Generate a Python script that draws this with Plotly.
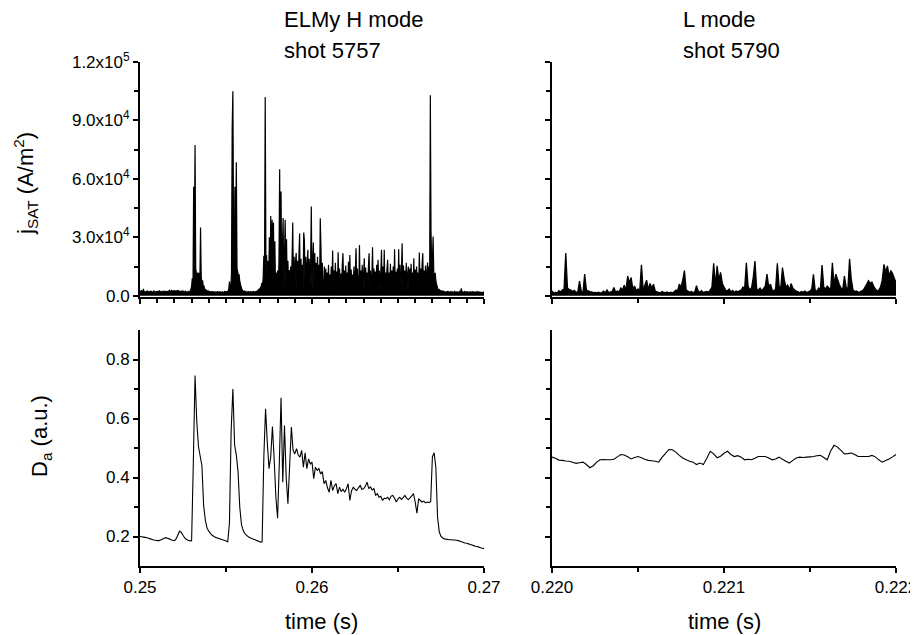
import numpy as np
import plotly.graph_objects as go

# ---------------- data ----------------
# H mode, shot 5757: ion saturation current density, units of 1e3 A/m^2,
# sampled every 40 us from t = 0.250 s
h_jsat_t0 = 0.250
h_jsat_dt = 0.00004
h_jsat_kA = [
    2.4, 1.8, 2.9, 1.5, 2.2, 3.6, 1.7, 2.0, 1.4, 2.3,
    1.9, 2.6, 1.3, 2.1, 1.8, 2.5, 1.6, 2.2, 1.9, 1.5,
    2.7, 1.8, 2.0, 1.4, 2.4, 1.9, 2.2, 1.6, 2.8, 1.7,
    2.1, 1.5, 2.3, 2.0, 1.8, 2.6, 1.7, 2.2, 1.9, 2.4,
    1.6, 2.5, 2.0, 3.1, 1.8, 2.3, 2.7, 1.9, 2.5, 2.2,
    2.8, 2.0, 2.4, 1.7, 2.9, 2.3, 2.6, 2.0, 2.4, 1.8,
    2.2, 2.6, 1.9, 2.3, 1.7, 2.1, 2.4, 1.8, 2.0, 1.6,
    2.3, 1.9, 2.1, 2.6, 3.4, 4.8, 9.0, 3.5, 56.0, 18.0,
    77.4, 14.0, 11.5, 9.0, 12.0, 8.5, 11.8, 7.0, 35.0, 9.5,
    6.5, 8.0, 4.5, 5.2, 3.0, 3.6, 2.4, 2.9, 2.0, 2.5,
    1.8, 2.2, 1.5, 2.1, 1.7, 2.4, 1.4, 2.0, 1.6, 2.2,
    1.3, 1.9, 1.6, 2.3, 1.5, 1.8, 2.1, 1.4, 1.9, 1.7,
    2.0, 1.5, 1.8, 2.2, 1.6, 2.4, 1.7, 2.0, 2.6, 3.2,
    7.3, 3.5, 4.0, 12.0, 87.0, 105.0, 30.0, 17.0, 56.0, 22.0,
    68.6, 14.0, 12.5, 10.0, 11.0, 7.5, 6.0, 4.5, 3.5, 2.8,
    2.4, 2.0, 2.6, 1.8, 2.2, 1.5, 2.0, 1.7, 2.3, 1.6,
    1.9, 2.2, 1.5, 2.0, 1.8, 2.4, 1.6, 2.1, 1.9, 2.3,
    2.0, 2.6, 2.9, 3.5, 3.0, 4.2, 4.8, 6.5, 5.5, 9.0,
    20.5, 12.0, 102.0, 19.0, 21.0, 3.0, 18.0, 2.5, 30.0, 3.5,
    41.0, 2.8, 39.0, 20.0, 37.6, 4.0, 28.0, 2.5, 12.0, 2.0,
    13.0, 3.0, 18.0, 65.0, 3.5, 53.5, 2.5, 24.0, 40.0, 3.0,
    20.0, 39.0, 2.5, 29.0, 4.0, 18.0, 2.0, 13.3, 3.0, 15.0,
    2.5, 19.0, 37.6, 3.0, 20.0, 2.5, 17.0, 22.0, 3.0, 18.0,
    2.2, 21.0, 32.0, 3.5, 19.0, 2.5, 16.0, 4.0, 32.5, 28.0,
    2.5, 20.0, 3.0, 17.0, 23.6, 2.0, 19.0, 4.0, 15.0, 45.8,
    3.0, 18.0, 27.3, 2.5, 22.0, 3.5, 17.0, 2.0, 20.0, 3.0,
    16.0, 2.5, 39.8, 25.3, 3.0, 17.0, 4.0, 2.0, 15.0, 3.0,
    14.0, 2.0, 12.0, 3.5, 16.0, 2.2, 11.0, 4.0, 15.0, 2.5,
    23.2, 2.5, 13.0, 3.5, 17.0, 2.0, 12.5, 3.0, 22.4, 2.8,
    14.0, 2.2, 11.5, 4.0, 16.0, 21.9, 2.0, 13.0, 3.0, 15.5,
    2.5, 12.0, 4.5, 17.5, 2.0, 21.0, 3.5, 13.5, 2.2, 11.0,
    3.5, 15.0, 2.5, 12.0, 24.4, 3.0, 14.0, 4.5, 2.0, 26.1,
    3.0, 13.0, 2.2, 16.0, 3.5, 11.0, 19.3, 2.5, 14.5, 3.0,
    12.0, 2.0, 15.0, 21.9, 2.8, 13.0, 4.0, 10.0, 24.9, 2.2,
    14.0, 3.0, 12.5, 2.0, 16.0, 4.5, 18.5, 2.5, 13.0, 3.0,
    11.0, 23.6, 2.5, 15.0, 2.0, 23.6, 3.5, 12.0, 2.2, 14.0,
    18.5, 2.8, 12.0, 4.0, 16.5, 2.0, 13.0, 3.0, 15.0, 2.5,
    23.9, 3.5, 12.5, 2.2, 14.0, 3.0, 23.9, 2.5, 16.0, 2.0,
    12.0, 27.0, 3.0, 15.5, 2.2, 13.0, 3.5, 17.0, 2.5, 11.0,
    15.0, 2.0, 14.0, 3.0, 16.5, 2.5, 12.0, 4.0, 19.3, 2.5,
    13.5, 2.0, 15.0, 3.5, 12.0, 2.2, 22.2, 3.5, 14.0, 2.5,
    16.0, 21.9, 2.2, 13.0, 3.5, 15.5, 2.0, 12.0, 17.1, 3.5,
    15.0, 9.0, 103.0, 33.0, 14.0, 17.0, 30.4, 12.0, 9.0, 11.8,
    8.0, 6.0, 4.8, 3.5, 2.8, 3.2, 2.4, 2.7, 2.2, 2.5,
    1.9, 2.3, 1.7, 2.1, 1.5, 2.0, 1.8, 2.4, 1.6, 2.1,
    1.4, 1.9, 2.2, 1.6, 2.0, 1.5, 1.8, 2.3, 1.7, 1.9,
    1.5, 2.1, 1.8, 1.4, 2.0, 2.5, 1.7, 3.9, 1.6, 2.2,
    1.5, 1.9, 2.4, 1.6, 2.0, 1.4, 2.2, 1.7, 1.9, 1.5,
    2.1, 1.6, 1.8, 2.3, 1.5, 1.9, 1.7, 2.0, 1.4, 1.8,
    2.2, 1.6, 1.9, 1.5, 2.0, 1.7, 1.4, 1.8, 1.6, 1.9, 1.5,
]

# H mode D-alpha (a.u.), sampled every 100 us from t = 0.250 s
h_da_t0 = 0.250
h_da_dt = 0.0001
h_da = [
    0.200, 0.199, 0.198, 0.197, 0.196, 0.194, 0.192, 0.190, 0.188, 0.187,
    0.186, 0.186, 0.188, 0.191, 0.194, 0.196, 0.194, 0.192, 0.189, 0.187,
    0.186, 0.192, 0.205, 0.218, 0.214, 0.204, 0.195, 0.190, 0.187, 0.186,
    0.185, 0.450, 0.746, 0.590, 0.505, 0.472, 0.440, 0.305, 0.255, 0.228,
    0.218, 0.210, 0.204, 0.200, 0.197, 0.195, 0.193, 0.191, 0.189, 0.187,
    0.185, 0.182, 0.245, 0.560, 0.700, 0.510, 0.476, 0.420, 0.300, 0.240,
    0.220, 0.210, 0.204, 0.199, 0.196, 0.193, 0.191, 0.189, 0.186, 0.184,
    0.181, 0.182, 0.470, 0.633, 0.520, 0.430, 0.470, 0.573, 0.463, 0.333,
    0.262, 0.450, 0.670, 0.384, 0.576, 0.401, 0.311, 0.440, 0.571, 0.492,
    0.480, 0.498, 0.476, 0.469, 0.492, 0.435, 0.484, 0.430, 0.463, 0.446,
    0.452, 0.396, 0.435, 0.424, 0.430, 0.412, 0.420, 0.379, 0.390, 0.365,
    0.350, 0.390, 0.356, 0.372, 0.379, 0.345, 0.367, 0.352, 0.360, 0.350,
    0.362, 0.379, 0.322, 0.355, 0.367, 0.360, 0.356, 0.365, 0.373, 0.360,
    0.362, 0.370, 0.384, 0.362, 0.368, 0.358, 0.362, 0.339, 0.345, 0.333,
    0.336, 0.322, 0.330, 0.328, 0.333, 0.325, 0.337, 0.339, 0.330, 0.317,
    0.328, 0.333, 0.326, 0.332, 0.339, 0.330, 0.325, 0.331, 0.338, 0.345,
    0.317, 0.279, 0.328, 0.322, 0.317, 0.320, 0.314, 0.317, 0.315, 0.318,
    0.470, 0.484, 0.435, 0.265, 0.215, 0.200, 0.195, 0.192, 0.191, 0.190,
    0.189, 0.189, 0.188, 0.188, 0.187, 0.186, 0.184, 0.182, 0.180, 0.178,
    0.177, 0.175, 0.173, 0.171, 0.169, 0.167, 0.166, 0.164, 0.162, 0.160, 0.159,
]

# L mode, shot 5790: jsat in 1e3 A/m^2, sampled every 10 us from t = 0.220 s
l_jsat_t0 = 0.220
l_jsat_dt = 0.00001
l_jsat_kA = [
    2.5, 1.2, 1.8, 1.4, 2.6, 2.0, 3.0, 3.5, 22.0, 4.0,
    3.2, 3.0, 2.2, 2.8, 1.8, 2.0, 7.5, 2.4, 1.6, 11.2,
    3.0, 2.6, 2.2, 2.0, 1.6, 1.8, 1.5, 1.9, 1.4, 1.7,
    2.4, 1.6, 3.0, 1.5, 2.0, 2.2, 4.3, 1.8, 2.5, 2.0,
    4.0, 3.0, 5.5, 2.8, 10.2, 6.5, 9.4, 3.5, 5.0, 2.6,
    3.5, 2.5, 15.9, 3.0, 5.5, 8.0, 3.2, 6.3, 4.0, 6.0,
    2.5, 2.0, 1.8, 1.5, 2.2, 1.7, 1.6, 2.0, 1.4, 1.8,
    1.5, 2.0, 3.0, 2.5, 6.0, 4.5, 8.0, 13.0, 3.0, 2.5,
    1.8, 2.2, 1.6, 2.0, 5.2, 2.4, 1.8, 2.6, 1.6, 2.0,
    2.2, 1.8, 3.0, 4.5, 16.7, 5.0, 15.4, 8.0, 12.0, 6.5,
    4.5, 3.0, 2.5, 3.5, 2.0, 2.8, 1.8, 2.5, 2.0, 2.6,
    3.0, 4.5, 3.5, 17.0, 5.0, 3.0, 4.0, 9.4, 17.8, 3.5,
    3.0, 4.0, 2.5, 3.8, 5.0, 11.1, 4.5, 6.0, 3.0, 2.5,
    3.5, 16.7, 5.0, 4.0, 14.5, 8.5, 4.5, 5.5, 3.0, 6.3,
    4.0, 3.0, 2.5, 2.0, 1.6, 2.2, 1.8, 2.4, 1.7, 2.0,
    2.5, 3.5, 11.1, 3.0, 2.2, 4.0, 3.0, 15.8, 4.5, 3.5,
    5.0, 4.0, 3.0, 17.0, 5.5, 11.1, 8.5, 6.0, 4.0, 3.0,
    10.2, 4.5, 3.0, 19.0, 8.5, 3.0, 2.2, 2.5, 1.8, 2.0,
    2.4, 3.0, 4.5, 6.0, 7.7, 6.5, 7.0, 5.0, 3.5, 2.5,
    3.0, 4.5, 8.0, 16.2, 12.0, 15.4, 10.0, 13.0, 11.5, 9.0,
    6.8,
]

# L mode D-alpha (a.u.), sampled every 20 us from t = 0.220 s
l_da_t0 = 0.220
l_da_dt = 0.00002
l_da = [
    0.469, 0.465, 0.459, 0.458, 0.456, 0.455, 0.452, 0.448, 0.450, 0.452,
    0.444, 0.433, 0.440, 0.452, 0.460, 0.461, 0.460, 0.460, 0.462, 0.470,
    0.478, 0.476, 0.470, 0.463, 0.468, 0.471, 0.467, 0.462, 0.458, 0.457,
    0.455, 0.452, 0.468, 0.482, 0.495, 0.494, 0.486, 0.475, 0.466, 0.460,
    0.455, 0.452, 0.444, 0.449, 0.444, 0.465, 0.489, 0.480, 0.467, 0.472,
    0.482, 0.489, 0.478, 0.471, 0.474, 0.469, 0.460, 0.462, 0.460, 0.465,
    0.471, 0.471, 0.471, 0.466, 0.460, 0.463, 0.469, 0.462, 0.455, 0.449,
    0.458, 0.466, 0.469, 0.468, 0.469, 0.470, 0.471, 0.474, 0.475, 0.468,
    0.460, 0.490, 0.509, 0.503, 0.492, 0.480, 0.481, 0.483, 0.478, 0.471,
    0.471, 0.471, 0.471, 0.475, 0.470, 0.460, 0.452, 0.458, 0.463, 0.470,
    0.478,
]

# tick labels
jsat_tickvals = [0, 30000, 60000, 90000, 120000]
jsat_ticktext = ["0.0", "3.0x10<sup>4</sup>", "6.0x10<sup>4</sup>",
                 "9.0x10<sup>4</sup>", "1.2x10<sup>5</sup>"]
da_tickvals = [0.2, 0.4, 0.6, 0.8]
da_ticktext = ["0.2", "0.4", "0.6", "0.8"]
h_time_tickvals = [0.25, 0.26, 0.27]
h_time_ticktext = ["0.25", "0.26", "0.27"]
l_time_tickvals = [0.220, 0.221, 0.222]
l_time_ticktext = ["0.220", "0.221", "0.222"]

# ---------------- figure ----------------
def times(t0, dt, n):
    return t0 + dt * np.arange(n)

h_jsat = np.array(h_jsat_kA) * 1e3
l_jsat = np.array(l_jsat_kA) * 1e3

fig = go.Figure()
fig.add_trace(go.Scatter(x=times(h_jsat_t0, h_jsat_dt, len(h_jsat)), y=h_jsat,
                         mode="lines", line=dict(color="black", width=1.2, simplify=False),
                         fill="tozeroy", fillcolor="black",
                         xaxis="x", yaxis="y"))
fig.add_trace(go.Scatter(x=times(h_da_t0, h_da_dt, len(h_da)), y=h_da,
                         mode="lines", line=dict(color="black", width=1.1, simplify=False),
                         xaxis="x2", yaxis="y2"))
fig.add_trace(go.Scatter(x=times(l_jsat_t0, l_jsat_dt, len(l_jsat)), y=l_jsat,
                         mode="lines", line=dict(color="black", width=1.3, simplify=False),
                         fill="tozeroy", fillcolor="black",
                         xaxis="x3", yaxis="y3"))
fig.add_trace(go.Scatter(x=times(l_da_t0, l_da_dt, len(l_da)), y=l_da,
                         mode="lines", line=dict(color="black", width=1.1, simplify=False),
                         xaxis="x4", yaxis="y4"))

FONT = "Liberation Sans, Arial, Helvetica, sans-serif"
OFF = 8                      # page body margin offset
W, H = 918 - OFF, 635 - OFF  # figure size
fx = lambda px: (px - OFF) / W
fy = lambda py: 1 - (py - OFF) / H

left_dom = [fx(140), fx(484)]
right_dom = [fx(552), fx(896)]
top_dom = [fy(297), fy(62)]
bot_dom = [fy(566), fy(330)]

def ax(**kw):
    base = dict(showline=True, linecolor="black", linewidth=2, ticks="outside",
                ticklen=5, tickwidth=1.5, tickcolor="black", showgrid=False,
                zeroline=False, automargin=False,
                tickfont=dict(family=FONT, size=17, color="black"))
    base.update(kw)
    return base

jsat_range = [-600, 120000]
da_range = [0.1, 0.9]
mk = lambda **k: dict(ticks="outside", ticklen=4, tickwidth=1.5, tickcolor="black", **k)

fig.update_layout(
    width=W, height=H, autosize=False,
    margin=dict(l=0, r=0, t=0, b=0, autoexpand=False),
    paper_bgcolor="white", plot_bgcolor="white", showlegend=False,
    xaxis=ax(domain=left_dom, anchor="y", range=[0.25, 0.27],
             tickvals=h_time_tickvals, showticklabels=False,
             minor=mk(dtick=0.001, tick0=0.25)),
    yaxis=ax(domain=top_dom, anchor="x", range=jsat_range,
             tickvals=jsat_tickvals, ticktext=jsat_ticktext,
             minor=mk(tickvals=[15000, 45000, 75000, 105000])),
    xaxis2=ax(domain=left_dom, anchor="y2", range=[0.25, 0.27],
              tickvals=h_time_tickvals, ticktext=h_time_ticktext,
              minor=mk(tickvals=[0.255, 0.265])),
    yaxis2=ax(domain=bot_dom, anchor="x2", range=da_range,
              tickvals=da_tickvals, ticktext=da_ticktext,
              minor=mk(tickvals=[0.3, 0.5, 0.7])),
    xaxis3=ax(domain=right_dom, anchor="y3", range=[0.220, 0.222],
              tickvals=l_time_tickvals, showticklabels=False,
              minor=mk(tickvals=[0.2205, 0.2215])),
    yaxis3=ax(domain=top_dom, anchor="x3", range=jsat_range,
              tickvals=jsat_tickvals, showticklabels=False,
              minor=mk(tickvals=[15000, 45000, 75000, 105000])),
    xaxis4=ax(domain=right_dom, anchor="y4", range=[0.220, 0.222],
              tickvals=l_time_tickvals, ticktext=l_time_ticktext,
              minor=mk(tickvals=[0.2205, 0.2215])),
    yaxis4=ax(domain=bot_dom, anchor="x4", range=da_range,
              tickvals=da_tickvals, showticklabels=False,
              minor=mk(tickvals=[0.3, 0.5, 0.7])),
)

def ann(text, px, py, size=22, angle=0, xanchor="center"):
    fig.add_annotation(text=text, x=fx(px), y=fy(py), xref="paper", yref="paper",
                       showarrow=False, textangle=angle, xanchor=xanchor, yanchor="middle",
                       font=dict(family=FONT, size=size, color="black"))

ann("ELMy H mode", 282, 20, xanchor="left")
ann("shot 5757", 282, 50, xanchor="left")
ann("L mode", 681, 20, xanchor="left")
ann("shot 5790", 681, 50, xanchor="left")
ann("j<sub>SAT</sub> (A/m<sup>2</sup>)", 25, 184, angle=-90)
ann("D<sub>a</sub> (a.u.)", 41, 436, angle=-90)
ann("time (s)", 321, 621)
ann("time (s)", 724, 621)

fig.write_html("out.html")
